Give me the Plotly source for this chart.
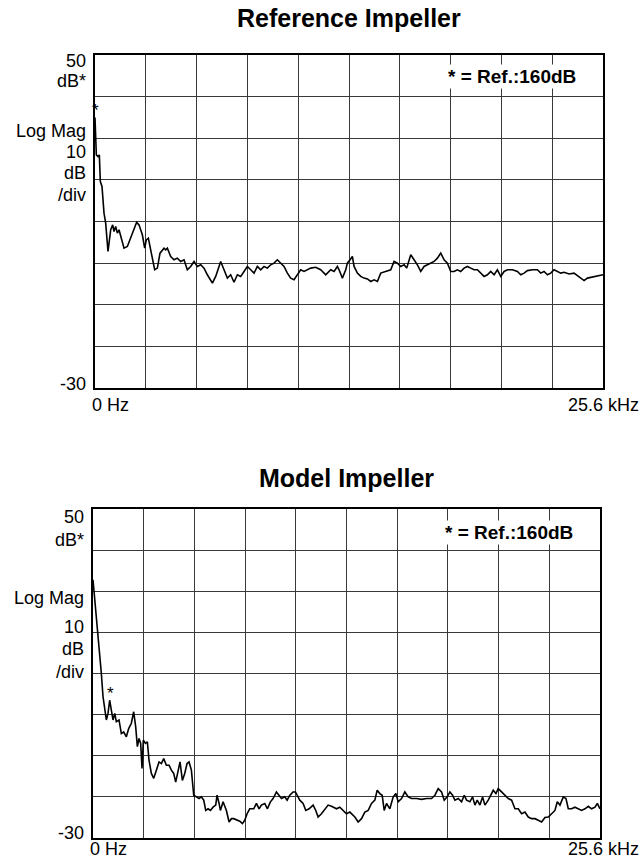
import plotly.graph_objects as go

# ---- Data: Reference Impeller (frequency in kHz, level in dB) ----
ref_freq = [0, 0.067, 0.151, 0.218, 0.269, 0.353, 0.454, 0.538, 0.655, 0.790, 0.890, 0.958, 1.042, 1.126,
            1.210, 1.294, 1.462, 1.630, 1.882, 2.100, 2.218, 2.386, 2.503, 2.587, 2.688, 2.806, 2.890,
            3.007, 3.142, 3.276, 3.478, 3.562, 3.646, 3.814, 3.982, 4.150, 4.318, 4.486, 4.654, 4.822,
            4.990, 5.158, 5.326, 5.494, 5.662, 5.914, 6.082, 6.250, 6.334, 6.502, 6.670, 6.838, 7.006,
            7.174, 7.342, 7.510, 7.678, 7.846, 8.014, 8.182, 8.350, 8.518, 8.686, 8.854, 9.022, 9.190,
            9.358, 9.526, 9.694, 9.862, 10.030, 10.198, 10.366, 10.534, 10.702, 10.870, 11.122, 11.374,
            11.626, 11.794, 11.879, 12.047, 12.215, 12.299, 12.467, 12.635, 12.719, 12.853, 12.971,
            13.055, 13.223, 13.391, 13.559, 13.727, 13.895, 14.063, 14.231, 14.399, 14.651, 14.903,
            15.071, 15.239, 15.407, 15.575, 15.709, 15.911, 16.079, 16.247, 16.415, 16.583, 16.751,
            16.919, 17.087, 17.255, 17.423, 17.591, 17.759, 17.927, 18.095, 18.263, 18.431, 18.599,
            18.767, 18.935, 19.103, 19.271, 19.439, 19.607, 19.775, 19.943, 20.111, 20.279, 20.447,
            20.615, 20.783, 21.035, 21.287, 21.455, 21.623, 21.791, 22.043, 22.295, 22.463, 22.631,
            22.799, 22.967, 23.135, 23.303, 23.471, 23.639, 23.891, 24.143, 24.395, 24.647, 24.815,
            24.983, 25.151, 25.319, 25.6]
ref_db = [35.0, 26.0, 25.6, 26.0, 19.6, 18.4, 12.0, 9.6, 2.8, 8.0, 9.2, 7.6, 8.8, 7.2,
          8.0, 6.4, 3.6, 4.0, 7.2, 9.8, 9.2, 6.8, 3.6, 5.6, 6.0, 3.2, 0.4,
          -1.6, -1.2, 2.4, 3.6, 3.2, 3.6, 1.6, 0.8, 1.2, 0.4, 0.8, -1.6, -0.8,
          0.4, -0.8, -0.4, -1.2, -2.8, -4.8, -3.2, -0.4, 0.4, -1.6, -3.6, -2.8, -4.6,
          -2.8, -3.2, -2.0, -0.8, -1.6, -2.4, -0.8, -1.6, -0.8, -1.2, -0.4, 0.0, 0.8,
          0.0, -0.8, -2.4, -3.6, -4.0, -2.8, -1.6, -2.0, -1.6, -1.2, -1.0, -1.6,
          -2.8, -2.0, -1.6, -2.0, -0.8, -1.6, -3.6, -1.6, 0.0, 0.8, 1.6,
          -0.8, -2.4, -3.2, -3.6, -3.8, -4.4, -4.0, -4.4, -2.4, -2.0, -1.6,
          0.4, 0.0, -0.8, -0.4, -1.2, 2.0, 0.8, -0.4, -2.0, -0.8, -0.4,
          0.0, 0.4, 1.2, 2.4, 0.8, 0.0, -2.0, -2.0, -1.6, -2.0, -1.2,
          -0.8, -1.2, -1.6, -1.6, -2.4, -3.2, -2.8, -2.0, -2.8, -1.6, -3.2,
          -2.0, -1.6, -1.6, -2.0, -2.8, -2.4, -1.8, -1.6, -1.6, -2.4, -2.0,
          -2.8, -2.4, -1.6, -2.0, -2.4, -2.2, -2.6, -2.4, -3.2, -4.2, -3.6,
          -3.4, -3.2, -3.0, -2.8]

# ---- Data: Model Impeller ----
mod_freq = [0, 0.067, 0.135, 0.202, 0.269, 0.337, 0.421, 0.505, 0.589, 0.674, 0.758, 0.842, 0.926,
            1.010, 1.095, 1.179, 1.314, 1.431, 1.549, 1.684, 1.802, 1.937, 2.054, 2.156, 2.240,
            2.324, 2.408, 2.475, 2.543, 2.644, 2.745, 2.829, 2.947, 3.065, 3.200, 3.334, 3.452,
            3.570, 3.705, 3.840, 3.957, 4.075, 4.176, 4.294, 4.395, 4.513, 4.631, 4.749, 4.850,
            4.968, 5.086, 5.220, 5.355, 5.473, 5.591, 5.692, 5.810, 5.928, 6.062, 6.197, 6.264,
            6.366, 6.433, 6.568, 6.736, 6.871, 6.989, 7.106, 7.275, 7.410, 7.544, 7.662, 7.780,
            7.915, 8.117, 8.252, 8.386, 8.504, 8.673, 8.807, 8.959, 9.094, 9.262, 9.397, 9.515,
            9.683, 9.801, 9.936, 10.104, 10.222, 10.323, 10.441, 10.609, 10.744, 10.912, 11.114,
            11.249, 11.367, 11.535, 11.704, 11.872, 12.042, 12.295, 12.463, 12.632, 12.800, 12.969,
            13.053, 13.221, 13.390, 13.558, 13.726, 13.895, 14.063, 14.232, 14.349, 14.484, 14.602,
            14.703, 14.821, 14.989, 15.158, 15.293, 15.410, 15.579, 15.747, 15.916, 16.084, 16.337,
            16.589, 16.842, 17.094, 17.263, 17.431, 17.600, 17.734, 17.886, 18.021, 18.155, 18.273,
            18.442, 18.610, 18.745, 18.863, 19.031, 19.166, 19.284, 19.401, 19.536, 19.671, 19.789,
            19.957, 20.075, 20.210, 20.345, 20.462, 20.631, 20.799, 20.968, 21.136, 21.305, 21.473,
            21.641, 21.810, 21.978, 22.147, 22.315, 22.483, 22.652, 22.820, 22.989, 23.157, 23.325,
            23.443, 23.578, 23.746, 23.881, 23.999, 24.167, 24.335, 24.504, 24.672, 24.840, 25.009,
            25.177, 25.346, 25.464, 25.6]
mod_db = [32.8, 29.1, 25.5, 23.0, 19.8, 14.9, 10.0, 4.4, 1.9, -1.3, 0.3, 3.5, 1.1,
          -1.3, 0.3, -1.7, -1.3, -4.6, -4.2, -5.4, -3.4, -2.1, 0.7, -3.0, -7.8,
          -5.8, -7.0, -13.1, -6.2, -7.0, -6.6, -11.1, -14.3, -15.5, -13.5, -11.5, -11.9,
          -10.7, -12.3, -12.3, -13.5, -14.3, -16.4, -13.5, -11.5, -16.0, -14.3, -11.9, -11.5,
          -13.5, -19.6, -20.0, -20.4, -20.0, -20.8, -23.3, -22.9, -23.3, -22.5, -22.0, -19.6,
          -21.6, -23.3, -21.2, -23.3, -26.1, -25.3, -25.3, -25.7, -25.9, -26.5, -25.7, -24.1,
          -22.9, -22.9, -21.6, -22.9, -22.0, -21.6, -22.9, -21.2, -20.4, -18.8, -19.6, -20.4,
          -20.0, -20.8, -19.6, -18.8, -18.8, -19.6, -20.8, -21.6, -23.3, -22.9, -22.0,
          -23.3, -24.9, -24.1, -22.9, -22.0, -22.3, -22.9, -22.5, -23.3, -24.1, -23.7,
          -24.1, -24.9, -26.1, -25.3, -23.7, -23.3, -21.6, -20.8, -18.4, -19.2, -19.6,
          -23.3, -21.6, -22.9, -20.0, -19.2, -21.2, -20.4, -18.8, -20.0, -20.4, -20.4,
          -20.6, -20.4, -20.4, -19.6, -18.0, -18.8, -20.8, -20.0, -18.8, -19.6, -20.8,
          -20.4, -21.2, -19.6, -20.8, -21.2, -20.0, -22.0, -20.8, -22.0, -20.0, -22.0,
          -20.8, -19.6, -18.4, -19.2, -18.0, -18.8, -19.6, -20.4, -20.8, -22.9, -22.9,
          -24.1, -23.7, -24.9, -25.3, -25.3, -25.7, -26.1, -25.0, -24.9, -24.1, -23.3,
          -21.2, -22.0, -20.0, -20.4, -22.9, -22.9, -22.5, -22.9, -23.3, -22.9, -22.3,
          -22.9, -22.5, -21.6, -22.9]

titles = ["Reference Impeller", "Model Impeller"]
marker_pts = [(0.0, 35.0), (0.842, 3.5)]   # positions of the "*" reference markers (data units)
x_range = [0, 25.6]
y_range = [-30, 50]

W, H = 642, 860
FONT = "Liberation Sans, Arial, Helvetica, sans-serif"


def px(x):
    return x / W


def py(y):
    return 1 - y / H


fig = go.Figure()
fig.add_trace(go.Scatter(x=ref_freq, y=ref_db, mode="lines", line=dict(color="black", width=1.6),
                         xaxis="x", yaxis="y", showlegend=False))
fig.add_trace(go.Scatter(x=mod_freq, y=mod_db, mode="lines", line=dict(color="black", width=1.6),
                         xaxis="x2", yaxis="y2", showlegend=False))

panels = [
    dict(l=95, r=603, t=55, b=388, title_y=18, lab=[("50", 61), ("dB*", 81), ("Log Mag", 131), ("10", 152),
                                                     ("dB", 173), ("/div", 195), ("-30", 384)],
         hz_y=405, hz_anchor="middle", ref_y=77),
    dict(l=93, r=600, t=509, b=838, title_y=478, lab=[("50", 517), ("dB*", 540), ("Log Mag", 598), ("10", 627),
                                                       ("dB", 649), ("/div", 672), ("-30", 833)],
         hz_y=860, hz_anchor="bottom", ref_y=532),
]

axis_common = dict(showticklabels=False, ticks="", showgrid=True, gridcolor="#3a3a3a", gridwidth=1,
                   showline=True, linecolor="black", linewidth=1.5, mirror=True, zeroline=False,
                   fixedrange=True)

annotations = []
for i, p in enumerate(panels):
    sx = "" if i == 0 else "2"
    fig.update_layout(**{
        f"xaxis{sx}": dict(domain=[px(p["l"]), px(p["r"])], range=x_range, dtick=2.56, tick0=0,
                           anchor=f"y{sx}", **axis_common),
        f"yaxis{sx}": dict(domain=[py(p["b"]), py(p["t"])], range=y_range, dtick=10, tick0=-30,
                           anchor=f"x{sx}", **axis_common),
    })
    annotations.append(dict(text=f"<b>{titles[i]}</b>", x=px((p["l"] + p["r"]) / 2), y=py(p["title_y"]),
                            xref="paper", yref="paper", showarrow=False, xanchor="center", yanchor="middle",
                            font=dict(family=FONT, size=25, color="black")))
    for txt, yy in p["lab"]:
        annotations.append(dict(text=txt, x=px(p["l"] - 7), y=py(yy), xref="paper", yref="paper",
                                showarrow=False, xanchor="right", yanchor="middle",
                                font=dict(family=FONT, size=18, color="black")))
    annotations.append(dict(text="0 Hz", x=px(p["l"] - 4), y=py(p["hz_y"]), xref="paper", yref="paper",
                            showarrow=False, xanchor="left", yanchor=p["hz_anchor"], borderpad=0,
                            font=dict(family=FONT, size=18, color="black")))
    annotations.append(dict(text="25.6 kHz", x=px(640), y=py(p["hz_y"]), xref="paper", yref="paper",
                            showarrow=False, xanchor="right", yanchor=p["hz_anchor"], borderpad=0,
                            font=dict(family=FONT, size=18, color="black")))
    annotations.append(dict(text="<b>* = Ref.:160dB</b>", x=px(p["r"] - 25), y=py(p["ref_y"]),
                            xref="paper", yref="paper", showarrow=False, xanchor="right", yanchor="middle",
                            bgcolor="white", borderpad=1,
                            font=dict(family=FONT, size=19, color="black")))
    mx, my = marker_pts[i]
    annotations.append(dict(text="*", x=mx, y=my, xref=f"x{sx}", yref=f"y{sx}", showarrow=False,
                            xanchor="center", yanchor="bottom", yshift=-5, xshift=1,
                            font=dict(family=FONT, size=17, color="black")))

fig.update_layout(width=W, height=H, margin=dict(l=0, r=0, t=0, b=0), paper_bgcolor="white",
                  plot_bgcolor="white", annotations=annotations, showlegend=False)

fig.write_html("out.html", config={"displayModeBar": False},
               post_script="document.body.style.margin='0';document.body.style.overflow='hidden';")
